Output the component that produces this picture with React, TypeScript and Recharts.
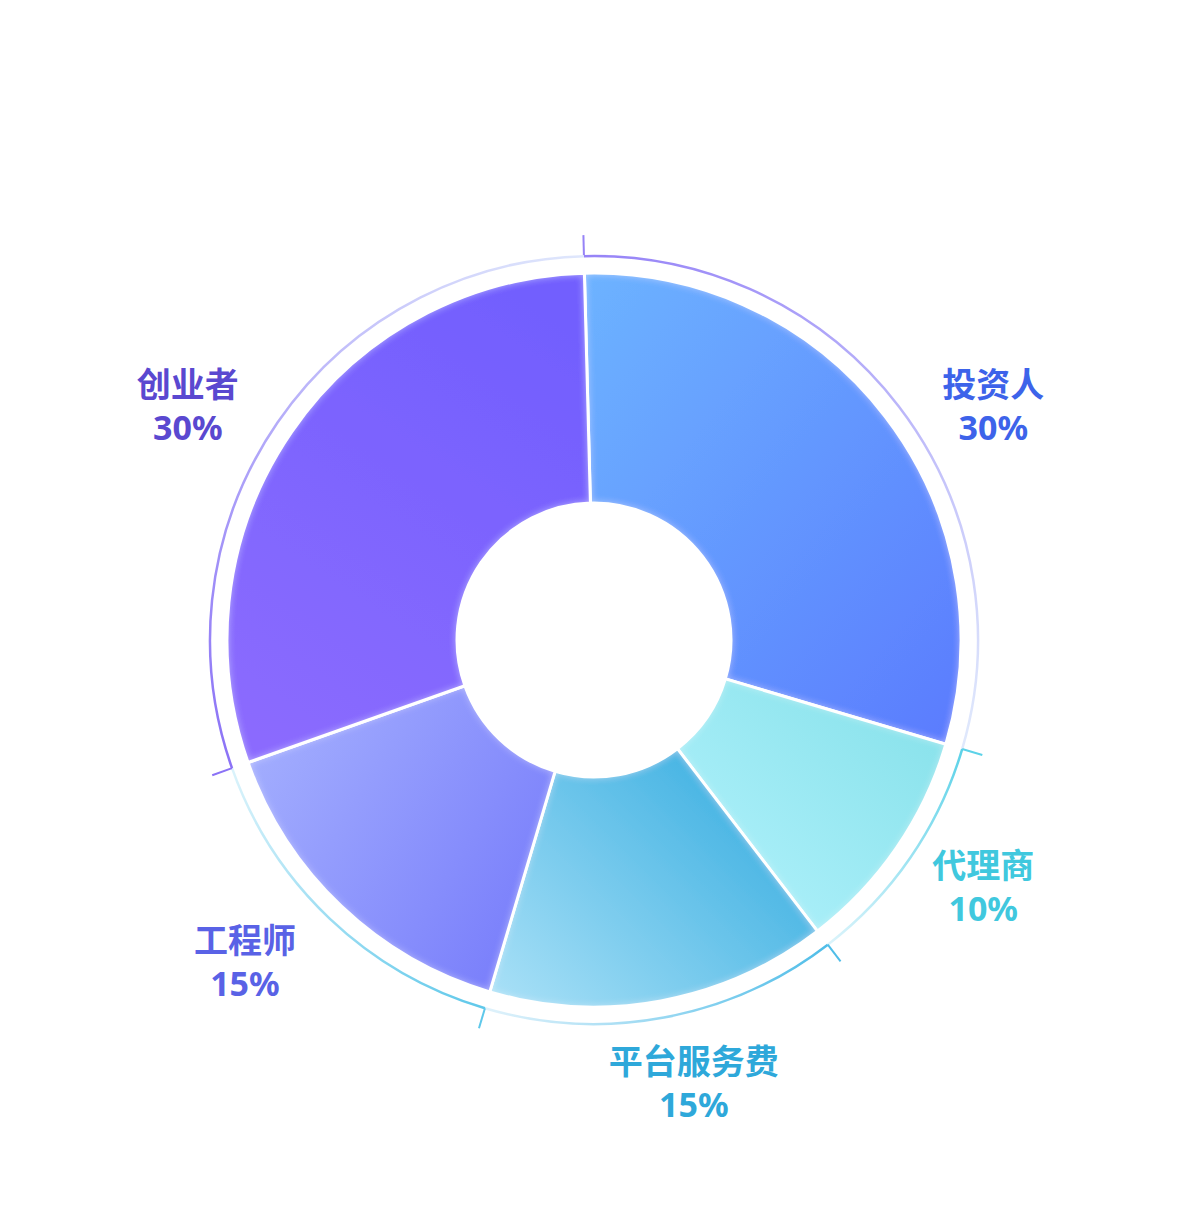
import React from "react";
import { PieChart, Pie, Cell } from "recharts";

// data
const categories = ["投资人", "代理商", "平台服务费", "工程师", "创业者"];
const shares = [30, 10, 15, 15, 30];

// styles
const sliceGradients = [
  { from: "#6db3ff", to: "#5a7bfe", x1: 0, y1: 0, x2: 1, y2: 1 },
  { from: "#84e0e9", to: "#b4f3fd", x1: 1, y1: 0, x2: 0, y2: 1 },
  { from: "#30aadf", to: "#a6dff6", x1: 1, y1: 0.1, x2: 0, y2: 0.9 },
  { from: "#a3aefe", to: "#777cfb", x1: 0, y1: 0.2, x2: 1, y2: 0.8 },
  { from: "#725ffe", to: "#8b6bfe", x1: 0.7, y1: 0, x2: 0.2, y2: 1 },
];
const ringColors = [
  { strong: "#9683f7", faint: "#e0e9fc" },
  { strong: "#5cd2e8", faint: "#dcf4fb" },
  { strong: "#4fbde8", faint: "#e0f2fb" },
  { strong: "#5fc8ea", faint: "#dbf3fb" },
  { strong: "#8b72f6", faint: "#dfe7fc" },
];
const labelColors = ["#3d63ea", "#40c8de", "#2ea8da", "#5962e6", "#5a48d0"];
// label nudges (degrees / px) from the slice mid angle
const labelAngleShift = [-7.1, 2.1, 2.2, -3.8, 4.5];
const labelRadiusShift = [0, -2, -9, 12, 6];

const data = categories.map((name, i) => ({ name, value: shares[i] }));

const RAD = Math.PI / 180;
const CX = 594;
const CY = 640;
const START = 91.5;

function polar(cx: number, cy: number, r: number, angle: number) {
  return { x: cx + Math.cos(-angle * RAD) * r, y: cy + Math.sin(-angle * RAD) * r };
}

function renderRing(props: any) {
  const { cx, cy, startAngle, endAngle, index } = props;
  const r = 384;
  const s = polar(cx, cy, r, startAngle);
  const e = polar(cx, cy, r, endAngle);
  const large = Math.abs(startAngle - endAngle) > 180 ? 1 : 0;
  const t2 = polar(cx, cy, r + 21, startAngle);
  const c = ringColors[index];
  const id = `ring-${index}`;
  return (
    <g key={id}>
      <defs>
        <linearGradient id={id} gradientUnits="userSpaceOnUse" x1={s.x} y1={s.y} x2={e.x} y2={e.y}>
          <stop offset="0%" stopColor={c.strong} />
          <stop offset="100%" stopColor={c.faint} />
        </linearGradient>
      </defs>
      <path
        d={`M ${s.x} ${s.y} A ${r} ${r} 0 ${large} 1 ${e.x} ${e.y}`}
        fill="none"
        stroke={`url(#${id})`}
        strokeWidth={2.5}
      />
      <line x1={s.x} y1={s.y} x2={t2.x} y2={t2.y} stroke={c.strong} strokeWidth={2} />
    </g>
  );
}

function renderLabel(props: any) {
  const { cx, cy, midAngle, index, name, percent } = props;
  const p = polar(cx, cy, 463 + labelRadiusShift[index], midAngle + labelAngleShift[index]);
  return (
    <text
      key={`lbl-${index}`}
      x={p.x}
      y={p.y}
      textAnchor="middle"
      fill={labelColors[index]}
      fontSize={34}
      fontWeight={700}
      fontFamily="'Noto Sans CJK SC', 'Noto Sans', sans-serif"
    >
      <tspan x={p.x} dy={-9}>{name}</tspan>
      <tspan x={p.x} dy={43} fontFamily="'Noto Sans', sans-serif">{`${Math.round(percent * 100)}%`}</tspan>
    </text>
  );
}

export default function App() {
  return (
    <div style={{ position: "absolute", left: 0, top: 0, background: "#fff" }}>
      <PieChart width={1190} height={1216} margin={{ top: 0, right: 0, bottom: 0, left: 0 }}>
        <defs>
          {sliceGradients.map((g, i) => (
            <linearGradient key={i} id={`slice-${i}`} x1={g.x1} y1={g.y1} x2={g.x2} y2={g.y2}>
              <stop offset="0%" stopColor={g.from} />
              <stop offset="100%" stopColor={g.to} />
            </linearGradient>
          ))}
          <filter id="innerGlow" x="-5%" y="-5%" width="110%" height="110%">
            <feGaussianBlur in="SourceAlpha" stdDeviation="5" result="blur" />
            <feComposite in="SourceAlpha" in2="blur" operator="arithmetic" k2="1" k3="-1" result="edge" />
            <feFlood floodColor="#ffffff" floodOpacity="0.55" />
            <feComposite in2="edge" operator="in" result="glow" />
            <feMerge>
              <feMergeNode in="SourceGraphic" />
              <feMergeNode in="glow" />
            </feMerge>
          </filter>
        </defs>
        <Pie
          data={data}
          dataKey="value"
          nameKey="name"
          cx={CX}
          cy={CY}
          innerRadius={383}
          outerRadius={385}
          startAngle={START}
          endAngle={START - 360}
          fill="none"
          stroke="none"
          label={renderRing}
          labelLine={false}
          isAnimationActive={false}
        />
        <Pie
          data={data}
          dataKey="value"
          nameKey="name"
          cx={CX}
          cy={CY}
          innerRadius={137}
          outerRadius={367}
          startAngle={START}
          endAngle={START - 360}
          stroke="#ffffff"
          strokeWidth={3}
          label={renderLabel}
          labelLine={false}
          isAnimationActive={false}
        >
          {data.map((d, i) => (
            <Cell key={d.name} fill={`url(#slice-${i})`} filter="url(#innerGlow)" />
          ))}
        </Pie>
      </PieChart>
    </div>
  );
}
